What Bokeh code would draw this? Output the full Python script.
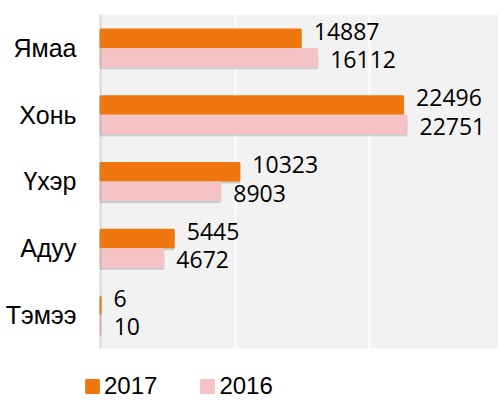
from bokeh.plotting import figure
from bokeh.models import (ColumnDataSource, Range1d, FixedTicker, Legend, LegendItem, BoxAnnotation)
from bokeh.transform import dodge
from bokeh.core.properties import value
from bokeh.embed import file_html
from bokeh.resources import INLINE

# data (top to bottom as shown)
categories = ["Ямаа", "Хонь", "Үхэр", "Адуу", "Тэмээ"]
values_2017 = [14887, 22496, 10323, 5445, 6]
values_2016 = [16112, 22751, 8903, 4672, 10]
series_names = ["2017", "2016"]
grid_ticks = [10000, 20000, 30000]

ORANGE = "#F0770F"
PINK = "#F5C3C5"

n = len(categories)
ypos = [n - 1 - i for i in range(n)]  # first category at the top

src = ColumnDataSource(data=dict(
    y=ypos,
    v2017=values_2017,
    v2016=values_2016,
    t2017=[str(v) for v in values_2017],
    t2016=[str(v) for v in values_2016],
))

p = figure(
    width=498, height=400,
    y_range=Range1d(-1.28, n - 0.5),
    x_range=Range1d(-1190, 29590),
    output_backend="svg", toolbar_location=None,
    min_border_left=84, min_border_right=0, min_border_top=14, min_border_bottom=0,
)
p.background_fill_color = "white"
p.border_fill_color = "white"
p.outline_line_color = None

# plot-area background (starts at zero, ends below the last category)
p.add_layout(BoxAnnotation(left=0, bottom=-0.5, fill_color="#F2F2F2", fill_alpha=1.0,
                           line_color=None, level="image"))

bh = 0.26
off = 0.145
sh = 0.035
# soft shadows under the bars
p.hbar(y=dodge("y", off - sh), left=0, right="v2017", height=bh, source=src,
       fill_color="#999999", fill_alpha=0.3, line_color="#999999", line_alpha=0.3, line_width=2)
p.hbar(y=dodge("y", -off - sh), left=0, right="v2016", height=bh, source=src,
       fill_color="#999999", fill_alpha=0.3, line_color="#999999", line_alpha=0.3, line_width=2)
r17 = p.hbar(y=dodge("y", off), left=0, right="v2017", height=bh, source=src,
             fill_color=ORANGE, line_color=ORANGE, line_width=2)
r16 = p.hbar(y=dodge("y", -off), left=0, right="v2016", height=bh, source=src,
             fill_color=PINK, line_color=PINK, line_width=2)

p.text(x="v2017", y=dodge("y", off), text="t2017", source=src,
       x_offset=13, y_offset=-7, text_baseline="middle", text_align="left",
       text_font=value("Open Sans"), text_font_size="23px", text_color="#000000")
p.text(x="v2016", y=dodge("y", -off), text="t2016", source=src,
       x_offset=13, y_offset=2, text_baseline="middle", text_align="left",
       text_font=value("Open Sans"), text_font_size="23px", text_color="#000000")

# value axis line at zero, along the plot area only
p.add_layout(BoxAnnotation(left=0, right=0, bottom=-0.5, fill_alpha=0,
                           line_color="#8C8C8C", line_width=2))

p.xaxis.visible = False
p.xgrid.ticker = FixedTicker(ticks=grid_ticks)
p.xgrid.grid_line_color = "white"
p.xgrid.grid_line_width = 2
p.ygrid.grid_line_color = None

ya = p.yaxis[0]
ya.ticker = FixedTicker(ticks=ypos)
ya.major_label_overrides = {y: c for y, c in zip(ypos, categories)}
ya.axis_line_color = None
ya.major_tick_line_color = None
ya.minor_tick_line_color = None
ya.major_label_standoff = 2
ya.major_label_text_font = "Liberation Sans"
ya.major_label_text_font_size = "25px"
ya.major_label_text_color = "#000000"

legend = Legend(
    items=[LegendItem(label=series_names[0], renderers=[r17]),
           LegendItem(label=series_names[1], renderers=[r16])],
    orientation="horizontal",
    location="bottom_left",
    glyph_width=16, glyph_height=16,
    label_standoff=4, spacing=42, padding=0, margin=0,
    label_text_font="Liberation Sans", label_text_font_size="24px", label_text_color="#000000",
    background_fill_alpha=0, border_line_color=None,
)
p.add_layout(legend, "center")

open("out.html", "w").write(file_html(p, INLINE))
